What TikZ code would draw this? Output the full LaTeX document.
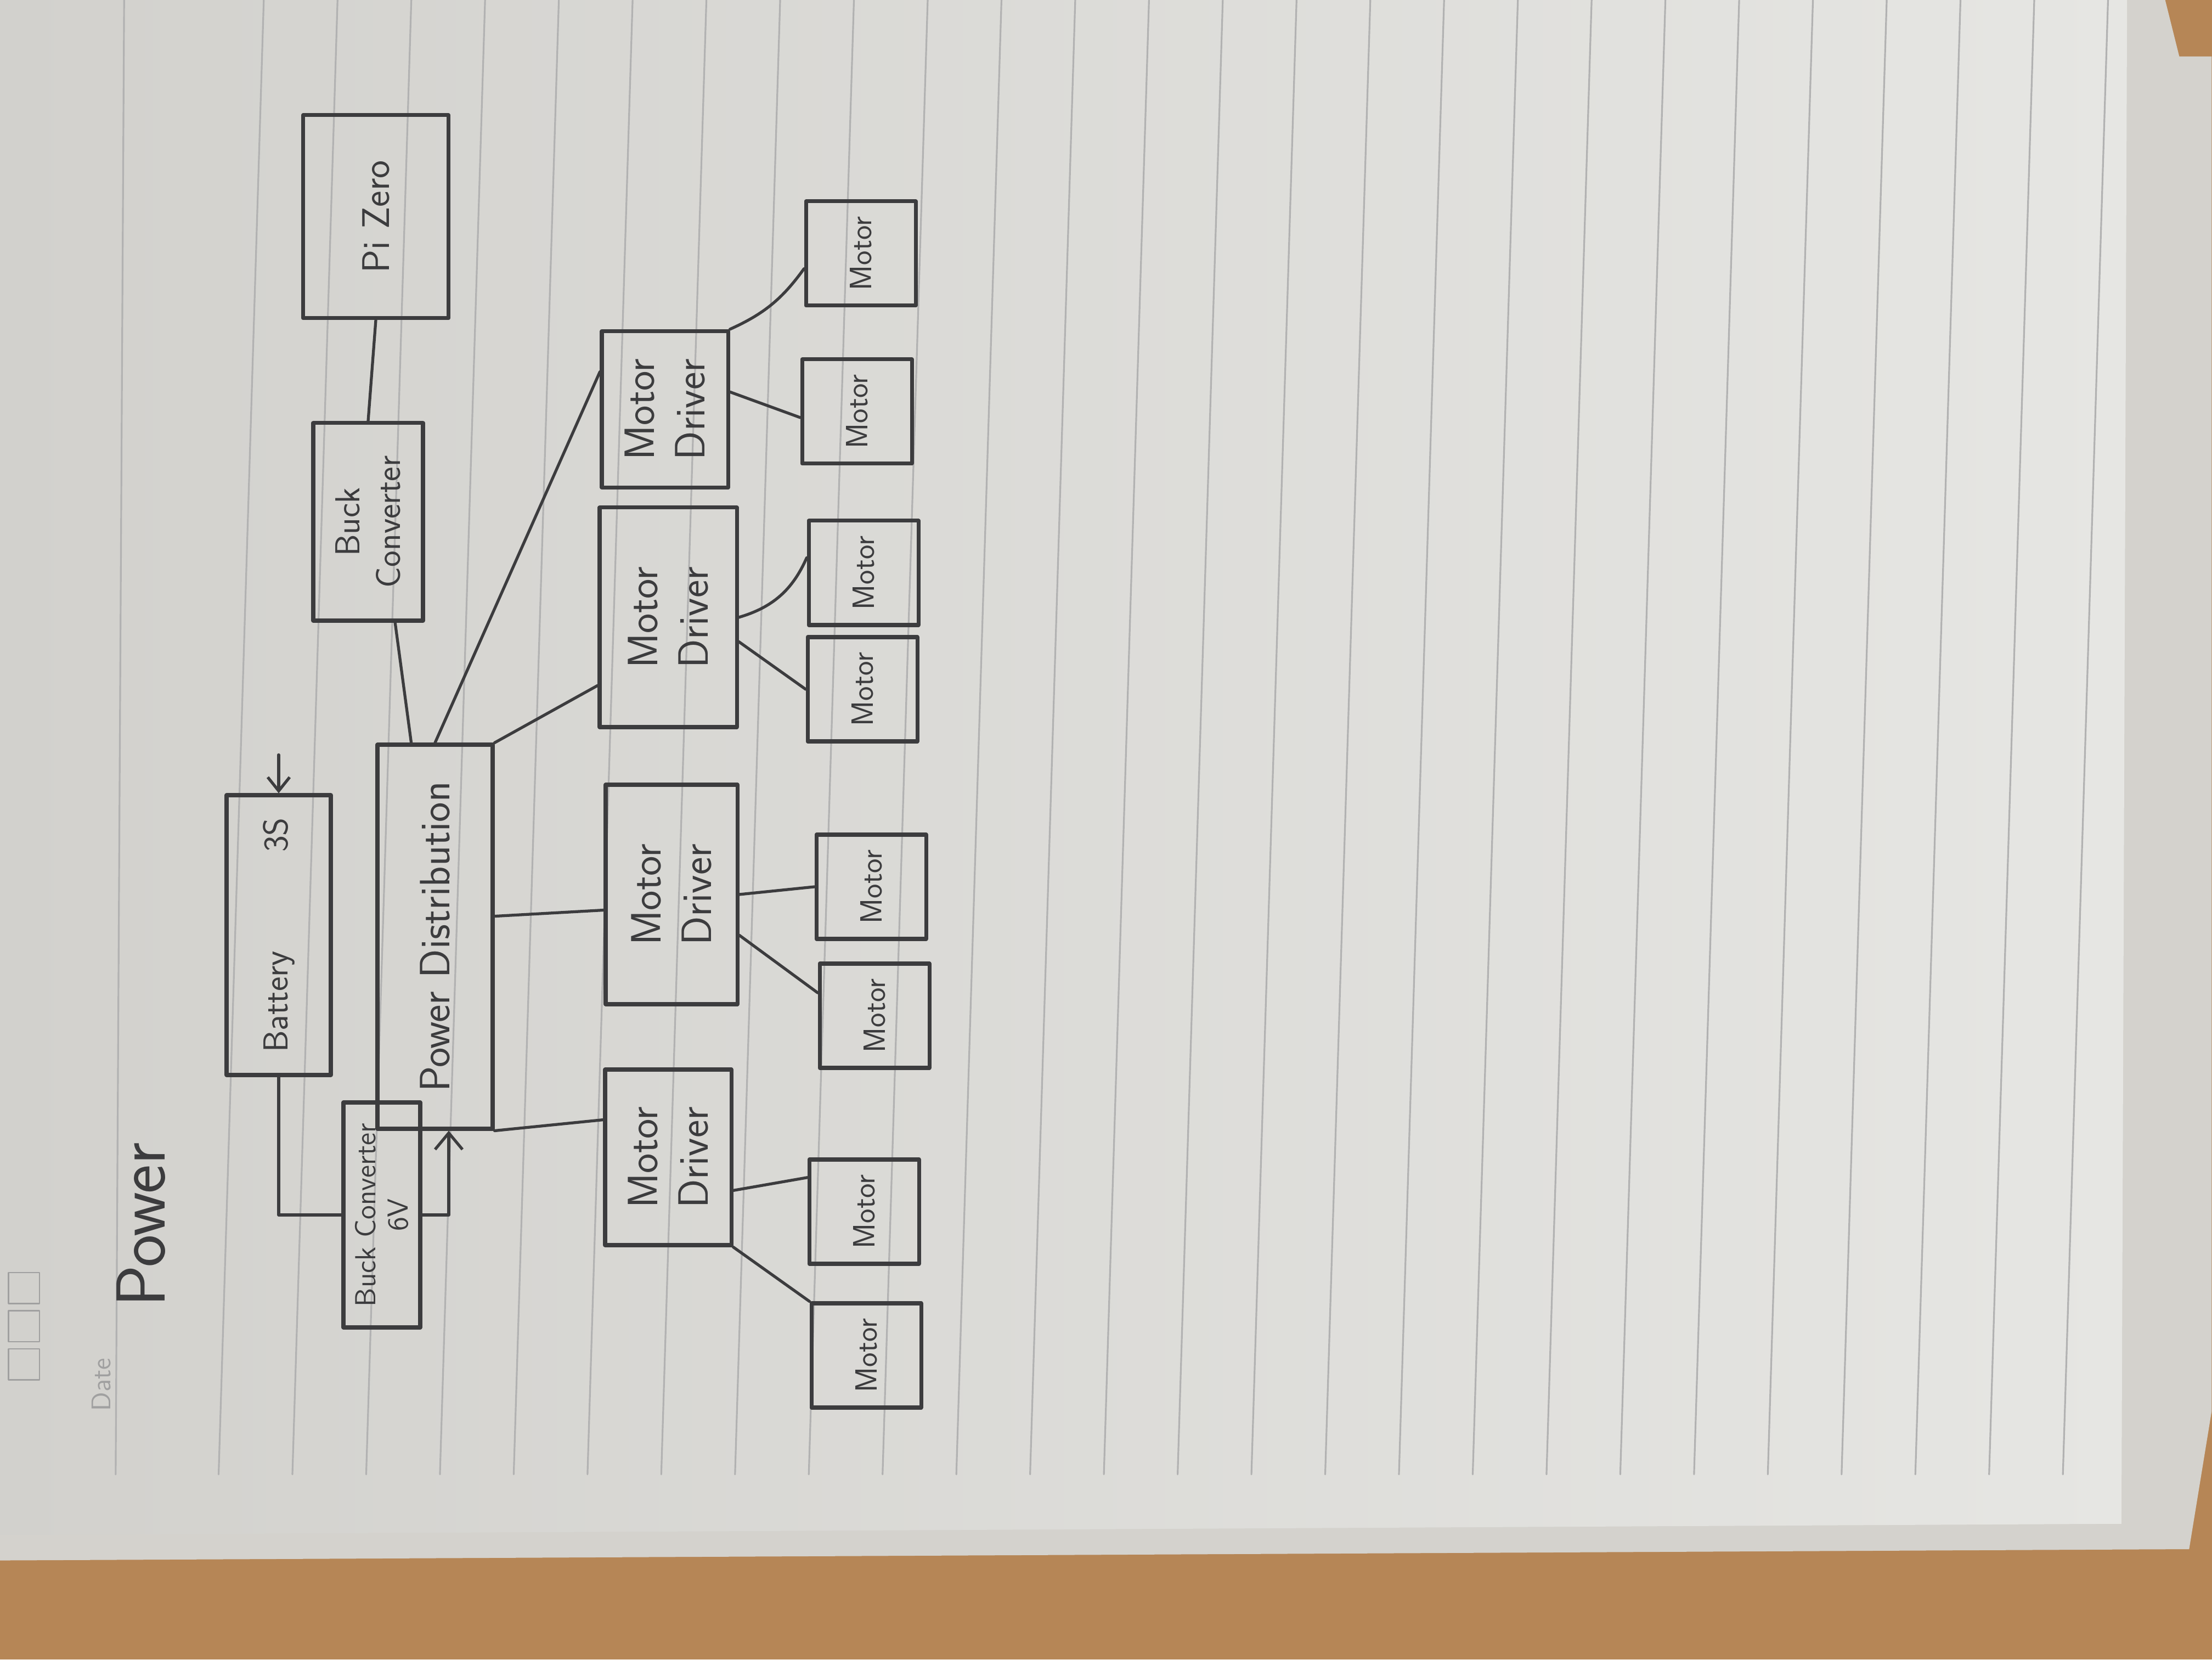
\documentclass[tikz,border=0pt]{standalone}
\usepackage{tikz}
\usetikzlibrary{arrows.meta,positioning}

\definecolor{ink}{RGB}{60,60,62}
\definecolor{paperdark}{RGB}{210,209,205}
\definecolor{paperlight}{RGB}{230,230,227}
\definecolor{backpaper}{RGB}{212,210,205}
\definecolor{wood}{RGB}{182,134,86}
\definecolor{ruleline}{RGB}{178,178,178}
\definecolor{printgray}{RGB}{160,160,160}

\begin{document}
\begin{tikzpicture}[line cap=round, line join=round]
       \tikzstyle{block}=[draw=ink, line width=2pt, rotate=90, align=center, inner sep=2pt, text=ink]
       \tikzstyle{driver}=[block, minimum height=2.3cm, font=\sffamily\fontsize{22}{26}\selectfont]
       \tikzstyle{motor}=[block, minimum width=1.9cm, minimum height=2cm, font=\sffamily\fontsize{16}{19}\selectfont]
       \tikzstyle{wire}=[draw=ink, line width=1.5pt]

       \useasboundingbox (0,0) rectangle (40.32,30.24);

       % desk and notebook page
       \fill[wood] (0,0) rectangle (40.32,30.24);
       \begin{scope}[x=0.025714cm, y=-0.025714cm, yshift=30.24cm]
         \fill[backpaper] (0,0) -- (1535,0) -- (1545,40) -- (1568,40) -- (1568,1000) -- (1552,1098) -- (0,1106) -- cycle;
         \shade[left color=paperdark, right color=paperlight] (0,0) -- (1508,0) -- (1504,1080) -- (0,1088) -- cycle;
         \draw[ruleline, line width=0.9pt] (88,0) -- (82,1045);
         \foreach \n in {0,...,25}
           \draw[ruleline, line width=0.9pt] ({187+52.3*\n},0) -- ({155+52.3*\n},1045);
         \foreach \sy in {913,940,967}
           \draw[printgray, line width=0.8pt] (6,\sy-11) rectangle (28,\sy+11);
       \end{scope}
       \node[rotate=90, text=printgray, font=\sffamily\fontsize{14}{16}\selectfont] (date) at (1.85,5.01) {Date};

       \node[rotate=90, text=ink, font=\sffamily\fontsize{36}{40}\selectfont] (title) at (2.57,7.92) {Power};

       \node[block, minimum width=5.1cm, minimum height=1.9cm, font=\sffamily\fontsize{18}{22}\selectfont] (battery) at (5.08,13.20) {Battery\hspace{1.8cm}3S};
       \node[block, minimum width=7cm, minimum height=2.1cm, font=\sffamily\fontsize{22}{26}\selectfont] (pd) at (7.93,13.17) {Power Distribution};
       \node[block, minimum width=4.1cm, minimum height=1.4cm, inner sep=1pt, font=\sffamily\fontsize{15}{17}\selectfont] (buck6) at (6.96,8.10) {Buck Converter\\6V};
       \node[block, minimum width=3.6cm, minimum height=2cm, font=\sffamily\fontsize{18}{21}\selectfont] (buckc) at (6.71,20.73) {Buck\\Converter};
       \node[block, minimum width=3.7cm, minimum height=2.65cm, font=\sffamily\fontsize{20}{24}\selectfont] (pi) at (6.85,26.29) {Pi Zero};

       % motor drivers
       \node[driver, minimum width=3.2cm] (md1) at (12.18,9.15) {Motor\\Driver};
       \node[driver, minimum width=4cm, minimum height=2.4cm] (md2) at (12.24,13.94) {Motor\\Driver};
       \node[driver, minimum width=4cm, minimum height=2.5cm] (md3) at (12.18,18.99) {Motor\\Driver};
       \node[driver, minimum width=2.85cm] (md4) at (12.12,22.78) {Motor\\Driver};

       % motors
       \node[motor] (m1b) at (15.79,5.54) {Motor};
       \node[motor] (m1a) at (15.75,8.16) {Motor};
       \node[motor] (m2a) at (15.94,11.73) {Motor};
       \node[motor] (m2b) at (15.88,14.08) {Motor};
       \node[motor] (m3a) at (15.72,17.68) {Motor};
       \node[motor] (m3b) at (15.74,19.80) {Motor};
       \node[motor] (m4a) at (15.62,22.74) {Motor};
       \node[motor] (m4b) at (15.69,25.62) {Motor};

       \coordinate (charge) at ([yshift=7mm]battery.east);
       \draw[wire, -{Straight Barb[length=2.5mm,width=4mm]}] (charge) -- (battery.east);
       \draw[wire] (battery.west) |- (buck6.north);
       \draw[wire, -{Straight Barb[length=3mm,width=5mm]}] (buck6.south) -| ([xshift=2.5mm]pd.west);

       \path[wire]
       (pd.7) edge (buckc.195)
       (buckc.east) edge (pi.west)
       (pd.south west) edge (md1.60)
       (pd.289) edge (md2.103)
       (pd.south east) edge (md3.134)
       (pd.east) edge (md4.60);

       \path[wire]
       (md1.243) edge (m1a.59)
       (md1.south west) edge (m1b.north east)
       (md2.south) edge (m2b.north)
       (md2.239) edge (m2a.68)
       (md3.south) edge [bend right=25] (m3b.75)
       (md3.251) edge (m3a.north)
       (md4.285) edge (m4a.96)
       (md4.south east) edge [bend right=15] (m4b.105);

     \end{tikzpicture}
\end{document}
